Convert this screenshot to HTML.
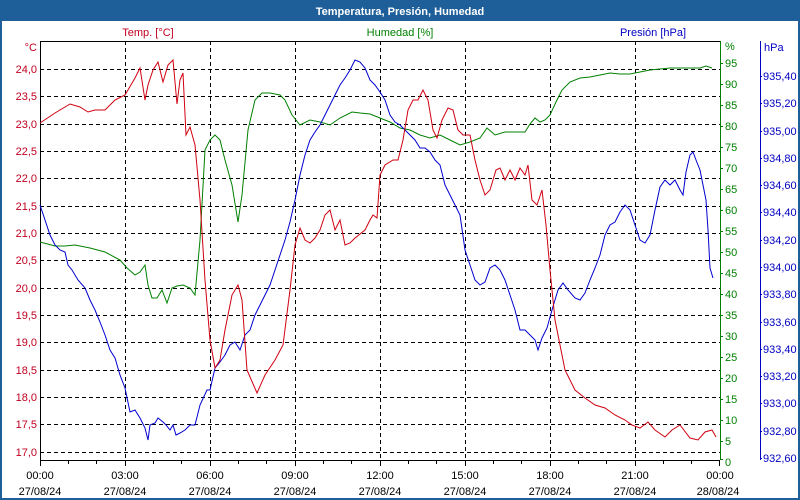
<!DOCTYPE html>
<html><head><meta charset="utf-8"><style>
html,body{margin:0;padding:0;background:#fff}
svg{display:block}
text{font-family:"Liberation Sans",sans-serif;font-size:11px}
</style></head><body>
<svg width="800" height="500" viewBox="0 0 800 500" xmlns="http://www.w3.org/2000/svg">
<rect x="0" y="0" width="800" height="500" fill="#fff"/>
<rect x="0" y="0" width="800" height="21" fill="#1f5f99"/>
<rect x="1" y="1" width="798" height="498" fill="none" stroke="#1f5f99" stroke-width="2"/>
<text x="400" y="15" text-anchor="middle" fill="#fff" font-weight="bold">Temperatura, Presión, Humedad</text>
<text x="148" y="36" text-anchor="middle" fill="#c00020">Temp. [°C]</text>
<text x="400" y="36" text-anchor="middle" fill="#008000">Humedad [%]</text>
<text x="653" y="36" text-anchor="middle" fill="#0000c0">Presión [hPa]</text>
<g stroke="#000" stroke-dasharray="4,3" stroke-width="1">
<path d="M125.5 41V460M210.5 41V460M295.5 41V460M380.5 41V460M465.5 41V460M550.5 41V460M635.5 41V460"/>
<path d="M40 69.5H720M40 96.5H720M40 124.5H720M40 151.5H720M40 178.5H720M40 206.5H720M40 233.5H720M40 260.5H720M40 288.5H720M40 315.5H720M40 342.5H720M40 370.5H720M40 397.5H720M40 424.5H720M40 452.5H720"/>
</g>
<path d="M40.5 41V460.5H720" fill="none" stroke="#000"/>
<path d="M40 41.5H720" stroke="#000"/>
<g stroke="#000"><path d="M68.5 460v4M96.5 460v4M125.5 460v6M153.5 460v4M181.5 460v4M210.5 460v6M238.5 460v4M266.5 460v4M295.5 460v6M323.5 460v4M351.5 460v4M380.5 460v6M408.5 460v4M436.5 460v4M465.5 460v6M493.5 460v4M521.5 460v4M550.5 460v6M578.5 460v4M606.5 460v4M635.5 460v6M663.5 460v4M691.5 460v4M40.5 460v6M719.5 460v6"/></g>
<line x1="720.5" y1="41" x2="720.5" y2="460" stroke="#008000"/>
<line x1="760.5" y1="41" x2="760.5" y2="460" stroke="#0000c0"/>
<g fill="#c00020" text-anchor="end">
<text x="37" y="51">°C</text>
<text x="37" y="73">24,0</text><text x="37" y="100">23,5</text><text x="37" y="128">23,0</text><text x="37" y="155">22,5</text><text x="37" y="182">22,0</text><text x="37" y="210">21,5</text><text x="37" y="237">21,0</text><text x="37" y="264">20,5</text><text x="37" y="292">20,0</text><text x="37" y="319">19,5</text><text x="37" y="346">19,0</text><text x="37" y="374">18,5</text><text x="37" y="401">18,0</text><text x="37" y="428">17,5</text><text x="37" y="456">17,0</text>
</g>
<g fill="#008000">
<text x="725" y="50">%</text>
<text x="725" y="67">95</text><text x="725" y="88">90</text><text x="725" y="109">85</text><text x="725" y="130">80</text><text x="725" y="151">75</text><text x="725" y="172">70</text><text x="725" y="193">65</text><text x="725" y="214">60</text><text x="725" y="235">55</text><text x="725" y="256">50</text><text x="725" y="277">45</text><text x="725" y="298">40</text><text x="725" y="319">35</text><text x="725" y="340">30</text><text x="725" y="361">25</text><text x="725" y="382">20</text><text x="725" y="403">15</text><text x="725" y="424">10</text><text x="725" y="445">5</text><text x="725" y="466">0</text>
</g>
<g stroke="#008000"><path d="M720 63.5h3M720 84.5h3M720 105.5h3M720 126.5h3M720 147.5h3M720 168.5h3M720 189.5h3M720 210.5h3M720 231.5h3M720 252.5h3M720 273.5h3M720 294.5h3M720 315.5h3M720 336.5h3M720 357.5h3M720 378.5h3M720 399.5h3M720 420.5h3M720 441.5h3M720 459.5h3"/></g>
<g fill="#0000c0">
<text x="764" y="51">hPa</text>
<text x="763" y="80">935,40</text><text x="763" y="107">935,20</text><text x="763" y="135">935,00</text><text x="763" y="162">934,80</text><text x="763" y="189">934,60</text><text x="763" y="216">934,40</text><text x="763" y="244">934,20</text><text x="763" y="271">934,00</text><text x="763" y="298">933,80</text><text x="763" y="326">933,60</text><text x="763" y="353">933,40</text><text x="763" y="380">933,20</text><text x="763" y="407">933,00</text><text x="763" y="435">932,80</text><text x="763" y="462">932,60</text>
</g>
<g stroke="#0000c0"><path d="M760 76.5h2M760 103.5h2M760 131.5h2M760 158.5h2M760 185.5h2M760 212.5h2M760 240.5h2M760 267.5h2M760 294.5h2M760 322.5h2M760 349.5h2M760 376.5h2M760 403.5h2M760 431.5h2M760 458.5h2"/></g>
<g fill="#000" text-anchor="middle">
<text x="40" y="479">00:00</text><text x="40" y="495">27/08/24</text>
<text x="125" y="479">03:00</text><text x="125" y="495">27/08/24</text>
<text x="210" y="479">06:00</text><text x="210" y="495">27/08/24</text>
<text x="295" y="479">09:00</text><text x="295" y="495">27/08/24</text>
<text x="380" y="479">12:00</text><text x="380" y="495">27/08/24</text>
<text x="465" y="479">15:00</text><text x="465" y="495">27/08/24</text>
<text x="550" y="479">18:00</text><text x="550" y="495">27/08/24</text>
<text x="635" y="479">21:00</text><text x="635" y="495">27/08/24</text>
<text x="720" y="479">00:00</text><text x="718" y="495">28/08/24</text>
</g>
<polyline fill="none" stroke="#008000" stroke-width="1" points="40,242 55,246 65,246 75,245 90,248 105,252 120,260 127,268 135,275 140,272 145,265 148,285 152,298 157,298 162,290 167,303 172,288 177,286 183,285 190,288 195,295 200,240 205,150 210,140 215,135 220,140 225,160 232,185 238,222 242,195 248,130 255,100 262,93 270,93 280,95 285,100 292,115 300,125 310,120 320,122 330,125 340,118 352,112 360,113 370,114 380,118 390,122 400,128 410,130 420,135 430,138 440,135 450,140 460,145 470,142 480,138 487,128 495,135 505,132 515,132 525,132 530,124 535,118 540,122 545,120 550,115 556,102 562,90 570,82 580,78 590,77 600,75 610,73 620,74 630,74 640,72 650,70 660,69 670,68 685,68 700,68 706,66 712,68"/>
<polyline fill="none" stroke="#0000d0" stroke-width="1" points="40,205 45,220 50,235 55,245 60,250 65,252 68,265 72,270 78,280 85,288 90,300 95,310 100,322 105,335 110,350 115,358 120,375 125,388 130,412 135,410 140,418 145,428 148,440 150,425 155,423 158,418 163,422 166,425 170,430 173,425 176,435 180,433 185,430 190,425 195,425 200,405 207,390 210,390 215,368 220,362 225,355 230,345 235,342 240,350 245,335 250,330 255,315 260,305 265,295 270,285 275,270 280,255 285,240 290,222 295,200 300,175 305,155 310,140 315,132 320,125 325,115 330,105 335,95 340,85 345,78 350,70 355,60 360,62 365,68 370,80 375,85 380,92 385,100 390,115 395,122 400,125 405,130 410,135 415,140 420,148 425,148 430,152 435,160 440,165 445,185 450,195 455,205 460,215 465,250 470,265 475,280 480,285 485,282 490,268 495,265 500,270 505,280 510,295 515,310 520,330 525,330 530,335 535,340 538,350 542,338 547,328 552,310 558,290 563,283 568,290 575,298 580,300 585,293 590,280 595,268 600,255 605,235 610,225 615,222 620,212 625,205 630,210 635,225 640,240 645,243 650,235 655,210 660,187 665,180 670,185 675,180 680,190 683,195 686,172 690,155 693,152 696,160 700,170 703,185 706,200 708,230 710,268 713,278"/>
<polyline fill="none" stroke="#d00010" stroke-width="1" points="40,123 55,113 70,104 80,107 88,112 95,110 105,110 115,100 125,95 135,78 140,68 145,100 148,85 153,70 158,62 163,82 168,65 173,60 177,104 180,80 183,73 186,135 190,127 195,145 200,200 205,280 210,340 215,368 220,360 225,330 232,295 238,285 242,300 247,370 257,393 265,375 275,360 283,345 290,290 295,245 300,228 305,240 310,243 315,238 320,230 325,215 330,210 335,230 340,220 345,245 350,243 355,238 365,230 370,220 373,215 377,218 380,175 385,165 393,160 398,160 403,140 408,110 413,100 418,100 423,90 428,100 433,130 437,138 442,120 448,108 453,110 458,130 463,135 470,135 475,160 480,180 485,195 490,190 496,170 500,168 505,180 510,170 515,180 520,168 525,175 528,165 532,200 537,205 542,190 546,225 550,270 555,320 560,345 565,370 570,380 575,390 585,398 595,405 605,408 615,415 625,420 632,425 640,428 648,422 655,430 665,437 672,430 680,425 690,438 698,440 705,432 712,430 716,437"/>
</svg>
</body></html>
